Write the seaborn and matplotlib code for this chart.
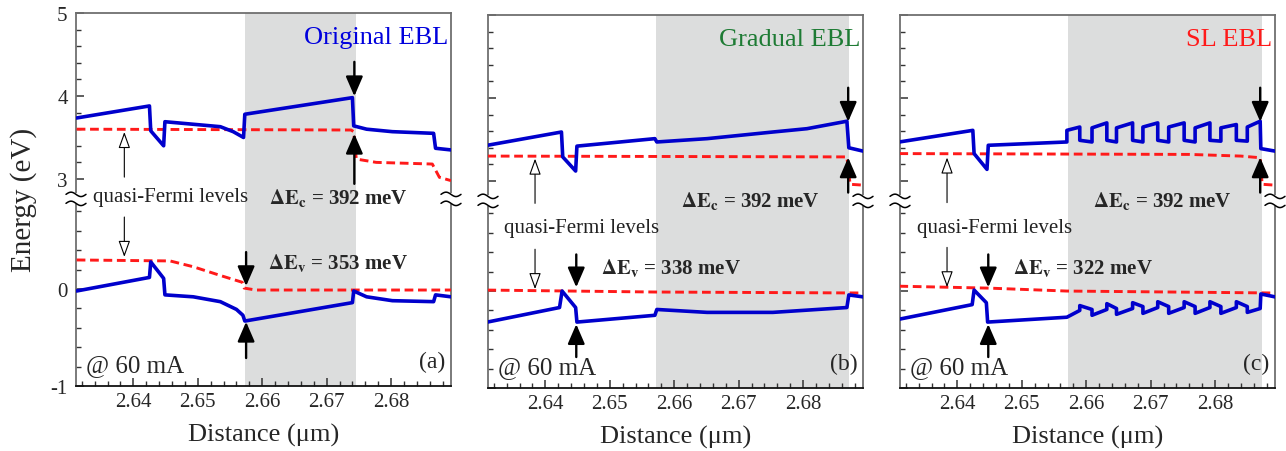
import numpy as np
import pandas as pd
import matplotlib
matplotlib.use("Agg")
import matplotlib.pyplot as plt
from matplotlib.ticker import FixedLocator, FixedFormatter
import seaborn as sns

# ---------------- data ----------------
# Panel (a) Original EBL
a_cb_x = [2.6312, 2.6425, 2.6427, 2.6447, 2.6449, 2.6535, 2.6555, 2.6571, 2.6573, 2.6740, 2.6742, 2.6762, 2.6802, 2.6866, 2.6869, 2.6893]
a_cb_y = [3.735, 3.88, 3.58, 3.40, 3.69, 3.63, 3.57, 3.50, 3.78, 3.98, 3.64, 3.60, 3.57, 3.55, 3.37, 3.35]
a_vb_x = [2.6312, 2.6425, 2.6427, 2.6440, 2.6447, 2.6449, 2.6493, 2.6535, 2.6560, 2.6570, 2.6573, 2.6740, 2.6742, 2.6762, 2.6802, 2.6866, 2.6869, 2.6893]
a_vb_y = [-0.02, 0.12, 0.28, 0.17, 0.11, -0.06, -0.08, -0.13, -0.21, -0.27, -0.33, -0.14, -0.02, -0.08, -0.12, -0.13, -0.06, -0.08]
a_fc_x = [2.6312, 2.6738, 2.6742, 2.6746, 2.6777, 2.6864, 2.6875, 2.6893]
a_fc_y = [3.60, 3.59, 3.57, 3.24, 3.20, 3.18, 3.02, 2.98]
a_fv_x = [2.6312, 2.6457, 2.6493, 2.6535, 2.6569, 2.6572, 2.6590, 2.6893]
a_fv_y = [0.30, 0.29, 0.23, 0.14, 0.07, 0.01, -0.01, -0.01]

# Panel (b) Gradual EBL
b_cb_x = [2.6310, 2.6425, 2.6427, 2.6447, 2.6449, 2.6570, 2.6573, 2.6651, 2.6753, 2.6806, 2.6868, 2.6871, 2.6893]
b_cb_y = [3.43, 3.59, 3.29, 3.12, 3.42, 3.51, 3.47, 3.51, 3.59, 3.63, 3.72, 3.40, 3.36]
b_vb_x = [2.6310, 2.6422, 2.6426, 2.6447, 2.6449, 2.6570, 2.6573, 2.6651, 2.6753, 2.6868, 2.6871, 2.6893]
b_vb_y = [-0.32, -0.17, 0.00, -0.17, -0.32, -0.25, -0.19, -0.22, -0.22, -0.17, -0.04, -0.06]
b_fc_x = [2.6310, 2.6868, 2.6873, 2.6893]
b_fc_y = [3.30, 3.29, 2.96, 2.95]
b_fv_x = [2.6310, 2.6570, 2.6893]
b_fv_y = [0.01, -0.01, -0.02]

# Panel (c) SL EBL
c_cb_x = [2.6310, 2.6424, 2.6426, 2.6446, 2.6448, 2.6570,
          2.6570, 2.6590, 2.6590, 2.6609, 2.6609, 2.6632, 2.6632, 2.6647,
          2.6647, 2.6672, 2.6672, 2.6688, 2.6688, 2.6711, 2.6711, 2.6728,
          2.6728, 2.6752, 2.6752, 2.6769, 2.6769, 2.6792, 2.6792, 2.6809,
          2.6809, 2.6833, 2.6833, 2.6850, 2.6850, 2.6870, 2.6871, 2.6893]
c_cb_y = [3.47, 3.61, 3.33, 3.14, 3.43, 3.47,
          3.61, 3.65, 3.49, 3.47, 3.64, 3.70, 3.49, 3.47,
          3.64, 3.70, 3.49, 3.47, 3.65, 3.70, 3.49, 3.47,
          3.65, 3.70, 3.49, 3.47, 3.64, 3.70, 3.49, 3.48,
          3.64, 3.68, 3.49, 3.48, 3.65, 3.72, 3.39, 3.36]
c_vb_x = [2.6310, 2.6423, 2.6426, 2.6445, 2.6447, 2.6570,
          2.6590, 2.6590, 2.6609, 2.6609, 2.6632, 2.6632, 2.6647, 2.6647,
          2.6672, 2.6672, 2.6688, 2.6688, 2.6711, 2.6711, 2.6728, 2.6728,
          2.6752, 2.6752, 2.6769, 2.6769, 2.6792, 2.6792, 2.6809, 2.6809,
          2.6833, 2.6833, 2.6850, 2.6850, 2.6870, 2.6871, 2.6893]
c_vb_y = [-0.29, -0.14, 0.01, -0.12, -0.32, -0.27,
          -0.20, -0.15, -0.19, -0.25, -0.19, -0.13, -0.18, -0.24,
          -0.18, -0.12, -0.16, -0.23, -0.17, -0.11, -0.16, -0.23,
          -0.17, -0.11, -0.16, -0.23, -0.17, -0.11, -0.16, -0.23,
          -0.17, -0.11, -0.16, -0.22, -0.18, -0.03, -0.06]
c_fc_x = [2.6310, 2.6760, 2.6840, 2.6870, 2.6873, 2.6893]
c_fc_y = [3.33, 3.32, 3.30, 3.28, 2.96, 2.95]
c_fv_x = [2.6310, 2.6450, 2.6570, 2.6893]
c_fv_y = [0.05, 0.03, 0.00, -0.02]

titles = ["Original EBL", "Gradual EBL", "SL EBL"]
title_colors = ["#0000dd", "#1e7b34", "#ff1a1a"]
panel_letters = ["(a)", "(b)", "(c)"]
ebl_start = [2.6573, 2.6571, 2.6571]
ebl_end = [2.6745, 2.6872, 2.6873]
dEc_labels = ["392", "392", "392"]
dEv_labels = ["353", "338", "322"]
x_ticks = [2.64, 2.65, 2.66, 2.67, 2.68]
x_tick_labels = ["2.64", "2.65", "2.66", "2.67", "2.68"]
y_ticks = [-1, 0, 3, 4, 5]
y_tick_labels = ["-1", "0", "3", "4", "5"]

# ---------------- styling ----------------
sns.set_theme(style="ticks")
plt.rcParams["font.family"] = ["Liberation Serif", "DejaVu Serif"]
plt.rcParams["mathtext.fontset"] = "stix"

BLUE = "#0000cc"
RED = "#ff1a1a"
SHADE = "#dcdddd"

# broken energy axis: piecewise linear scale
BP_V = [-50.0, 0.9, 2.76, 50.0]
BP_D = [-50.0, 0.9, 0.93, 0.93 + (50.0 - 2.76) * 0.856]
def fwd(v):
    return np.interp(v, BP_V, BP_D)
def inv(d):
    return np.interp(d, BP_D, BP_V)

fig = plt.figure(figsize=(12.86, 4.52), dpi=100)
W = 375 / 1286
lefts = [76 / 1286, 488 / 1286, 900 / 1286]
bottoms = [(452 - 387) / 452, (452 - 389) / 452, (452 - 389) / 452]
H = 373 / 452

panels = [
    (a_cb_x, a_cb_y, a_vb_x, a_vb_y, a_fc_x, a_fc_y, a_fv_x, a_fv_y),
    (b_cb_x, b_cb_y, b_vb_x, b_vb_y, b_fc_x, b_fc_y, b_fv_x, b_fv_y),
    (c_cb_x, c_cb_y, c_vb_x, c_vb_y, c_fc_x, c_fc_y, c_fv_x, c_fv_y),
]

# annotation geometry (x in data, y in axes fraction)
arrow_cb_x = [2.6743, 2.6870, 2.6870]
arrow_vb_x = [2.6575, 2.6448, 2.6448]
hollow_x = [2.6386, 2.6384, 2.6384]
cb_down = [(0.869, 0.777), (0.805, 0.714), (0.805, 0.714)]
cb_up = [(0.542, 0.676), (0.524, 0.618), (0.524, 0.618)]
vb_down = [(0.359, 0.268), (0.358, 0.270), (0.358, 0.270)]
vb_up = [(0.075, 0.172), (0.083, 0.171), (0.083, 0.171)]
h_up = [(0.560, 0.681), (0.495, 0.615), (0.497, 0.618)]
h_down = [(0.453, 0.346), (0.372, 0.265), (0.377, 0.270)]
qf_pos = [(0.045, 0.507), (0.043, 0.430), (0.045, 0.430)]
dEc_pos = [(0.515, 0.507), (0.515, 0.505), (0.515, 0.505)]
dEv_pos = [(0.512, 0.332), (0.301, 0.324), (0.301, 0.324)]


def break_mark(ax, xf, y0=0.5017):
    t = np.linspace(-1, 1, 40)
    w = 10 / 375
    amp = 2.2 / 373
    ax.plot([xf, xf], [y0 - 3.5 / 373, y0 + 3.5 / 373], color="white", lw=3,
            transform=ax.transAxes, clip_on=False, zorder=6)
    for dy in (-4.5 / 373, 4.5 / 373):
        ax.plot(xf + t * w, y0 + dy - amp * np.sin(np.pi * t), color="black", lw=1.1,
                transform=ax.transAxes, clip_on=False, zorder=7)


for i, (cbx, cby, vbx, vby, fcx, fcy, fvx, fvy) in enumerate(panels):
    ax = fig.add_axes([lefts[i], bottoms[i], W, H])
    ax.set_yscale("function", functions=(fwd, inv))
    ax.axvspan(ebl_start[i], ebl_end[i], color=SHADE, lw=0, zorder=0)

    dash = (0, (3.0, 1.6))
    sns.lineplot(x=fcx, y=fcy, sort=False, estimator=None, color=RED, lw=2.1,
                 linestyle=dash, ax=ax, zorder=3)
    sns.lineplot(x=fvx, y=fvy, sort=False, estimator=None, color=RED, lw=2.1,
                 linestyle=dash, ax=ax, zorder=3)
    sns.lineplot(x=cbx, y=cby, sort=False, estimator=None, color=BLUE, lw=2.6,
                 ax=ax, zorder=4)
    sns.lineplot(x=vbx, y=vby, sort=False, estimator=None, color=BLUE, lw=2.6,
                 ax=ax, zorder=4)

    ax.set_xlim(2.6311, 2.6893)
    ax.set_ylim(-1, 5)
    ax.set_xlabel("")
    ax.set_ylabel("")
    ax.xaxis.set_major_locator(FixedLocator(x_ticks))
    ax.xaxis.set_major_formatter(FixedFormatter(x_tick_labels))
    ax.xaxis.set_minor_locator(FixedLocator(np.round(np.arange(2.632, 2.689, 0.002), 4)))
    ax.yaxis.set_major_locator(FixedLocator(y_ticks))
    ax.yaxis.set_major_formatter(FixedFormatter(y_tick_labels))
    ax.yaxis.set_minor_locator(FixedLocator([-0.8, -0.6, -0.4, -0.2, 0.2, 0.4, 0.6, 0.8,
                                             3.2, 3.4, 3.6, 3.8, 4.2, 4.4, 4.6, 4.8]))
    ax.tick_params(axis="both", which="major", direction="in", length=6, width=1.1,
                   labelsize=15, pad=4, color="#333333")
    ax.tick_params(axis="both", which="minor", direction="in", length=3.5, width=1.0,
                   color="#333333")
    ax.tick_params(axis="y", labelleft=(i == 0), pad=6)
    for s in ["left", "right", "top"]:
        ax.spines[s].set_color("#6f6f6f")
        ax.spines[s].set_linewidth(1.3)
    ax.spines["bottom"].set_color("#111111")
    ax.spines["bottom"].set_linewidth(1.3)

    break_mark(ax, 0.0)
    break_mark(ax, 1.0)

    tr = ax.get_xaxis_transform()
    filled = dict(arrowstyle="-|>,head_length=0.6,head_width=0.26", color="black",
                  lw=1.7, mutation_scale=20, shrinkA=0, shrinkB=0)
    hollow = dict(arrowstyle="-|>,head_length=0.5,head_width=0.18", facecolor="white",
                  edgecolor="black", lw=0.8, mutation_scale=20, shrinkA=0, shrinkB=0)
    for (y1, y2) in (cb_down[i], cb_up[i]):
        ax.annotate("", xy=(arrow_cb_x[i], y2), xytext=(arrow_cb_x[i], y1),
                    xycoords=tr, textcoords=tr, arrowprops=filled, zorder=8)
    for (y1, y2) in (vb_down[i], vb_up[i]):
        ax.annotate("", xy=(arrow_vb_x[i], y2), xytext=(arrow_vb_x[i], y1),
                    xycoords=tr, textcoords=tr, arrowprops=filled, zorder=8)
    for (y1, y2) in (h_up[i], h_down[i]):
        ax.annotate("", xy=(hollow_x[i], y2), xytext=(hollow_x[i], y1),
                    xycoords=tr, textcoords=tr, arrowprops=hollow, zorder=8)

    ax.text(0.993, 0.935, titles[i], color=title_colors[i], fontsize=19,
            ha="right", va="center", transform=ax.transAxes)
    ax.text(0.985, 0.067, panel_letters[i], fontsize=17, ha="right", va="center",
            transform=ax.transAxes)
    ax.text(0.027, 0.057, "@ 60 mA", fontsize=18, ha="left", va="center",
            transform=ax.transAxes)
    ax.text(qf_pos[i][0], qf_pos[i][1], "quasi-Fermi levels", fontsize=15,
            color="#222222", ha="left", va="center", transform=ax.transAxes)
    ax.text(dEc_pos[i][0], dEc_pos[i][1],
            r"$\mathbf{\Delta E_c}$" + " = " + dEc_labels[i] + " meV",
            fontsize=15, fontweight="bold", ha="left", va="center", transform=ax.transAxes)
    ax.text(dEv_pos[i][0], dEv_pos[i][1],
            r"$\mathbf{\Delta E_v}$" + " = " + dEv_labels[i] + " meV",
            fontsize=15, fontweight="bold", ha="left", va="center", transform=ax.transAxes)
    ax.text(0.5, -0.13, "Distance (\u03bcm)", fontsize=19, ha="center", va="center",
            transform=ax.transAxes)

fig.text(0.018, 0.557, "Energy (eV)", rotation=90, fontsize=21, ha="center", va="center")

fig.savefig("out.png", dpi=100)
